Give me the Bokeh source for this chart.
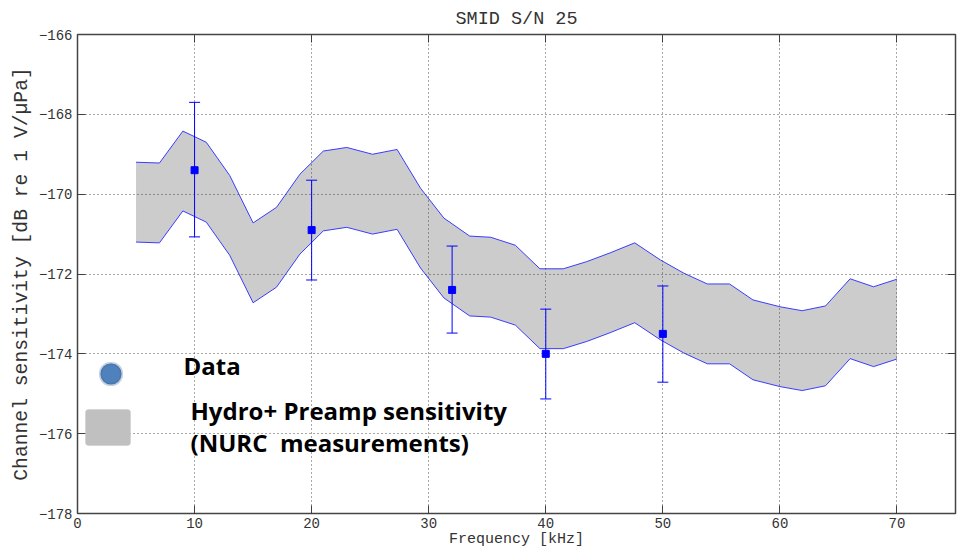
from bokeh.plotting import figure
from bokeh.models import (ColumnDataSource, Whisker, TeeHead, LinearAxis,
                          FixedTicker, Range1d, Label, BoxAnnotation)
from bokeh.embed import file_html
from bokeh.resources import INLINE

# Hydrophone + preamp sensitivity envelope (NURC measurements)
band_freq = [5, 7, 9, 11, 13, 15, 17, 19, 21, 23, 25.2, 27.3, 29.3, 31.3,
             33.5, 35.3, 37.4, 39.5, 41.5, 43.5, 45.5, 47.6, 49.8, 51.8,
             53.8, 55.7, 57.7, 60, 61.9, 63.9, 66, 68, 70]
band_upper = [-169.2, -169.22, -168.42, -168.7, -169.53, -170.72, -170.33,
              -169.5, -168.92, -168.83, -169.0, -168.88, -169.85, -170.6,
              -171.05, -171.08, -171.28, -171.87, -171.87, -171.69, -171.47,
              -171.22, -171.65, -171.98, -172.25, -172.25, -172.65, -172.82,
              -172.92, -172.8, -172.12, -172.32, -172.13]
band_lower = [-171.2, -171.22, -170.42, -170.7, -171.53, -172.72, -172.33,
              -171.5, -170.92, -170.83, -171.0, -170.88, -171.85, -172.6,
              -173.05, -173.08, -173.28, -173.87, -173.87, -173.69, -173.47,
              -173.22, -173.65, -173.98, -174.25, -174.25, -174.65, -174.82,
              -174.92, -174.8, -174.12, -174.32, -174.13]

# Channel sensitivity measured on SMID S/N 25, with error bars
meas_freq = [10, 20, 32, 40, 50]
meas_sens = [-169.4, -170.9, -172.4, -174.0, -173.5]
meas_hi = [-167.7, -169.65, -171.3, -172.88, -172.3]
meas_lo = [-171.07, -172.15, -173.48, -175.13, -174.71]

x_ticks = [0, 10, 20, 30, 40, 50, 60, 70]
y_ticks = [-178, -176, -174, -172, -170, -168, -166]

MONO = "Liberation Mono"
AXIS_COLOR = "#444444"
EDGE_BLUE = "#3b3bff"

p = figure(width=959, height=550, output_backend="svg", toolbar_location=None,
           x_range=Range1d(0, 75), y_range=Range1d(-178, -166),
           min_border_left=77, min_border_right=4,
           min_border_top=34, min_border_bottom=36,
           background_fill_color="white", border_fill_color="white")

p.title.text = "SMID S/N 25"
p.title.align = "center"
p.title.text_font = MONO
p.title.text_font_size = "18.5px"
p.title.text_font_style = "normal"
p.title.text_color = "#333333"

p.outline_line_color = AXIS_COLOR
p.outline_line_width = 1

def style_axis(ax, ticks, show_labels):
    ax.ticker = FixedTicker(ticks=ticks)
    ax.axis_line_color = AXIS_COLOR
    ax.axis_line_width = 1.5
    ax.major_tick_line_color = AXIS_COLOR
    ax.major_tick_in = 8
    ax.major_tick_out = 0
    ax.minor_tick_in = 0
    ax.minor_tick_out = 0
    ax.major_label_text_font = MONO
    ax.major_label_text_color = "#333333"
    ax.major_label_text_font_size = "14px"
    if not show_labels:
        # tick marks only on the mirrored top/right edges
        ax.major_label_overrides = {t: "" for t in ticks}
        ax.major_label_standoff = 0

style_axis(p.xaxis[0], x_ticks, True)
style_axis(p.yaxis[0], y_ticks, True)
p.xaxis.axis_label = "Frequency [kHz]"
p.yaxis.axis_label = "Channel sensitivity [dB re 1 V/\u00b5Pa]"
for ax, size in ((p.xaxis[0], "15px"), (p.yaxis[0], "19.7px")):
    ax.axis_label_text_font = MONO
    ax.axis_label_text_font_size = size
    ax.axis_label_text_font_style = "normal"
    ax.axis_label_text_color = "#333333"
p.xaxis.major_label_standoff = 4
p.xaxis.axis_label_standoff = 0
p.yaxis.major_label_standoff = 5
p.yaxis.axis_label_standoff = 3

top_axis = LinearAxis()
style_axis(top_axis, x_ticks, False)
p.add_layout(top_axis, "above")
right_axis = LinearAxis()
style_axis(right_axis, y_ticks, False)
p.add_layout(right_axis, "right")

# dotted grid drawn over the shaded envelope
for grid, ticks in ((p.xgrid, x_ticks), (p.ygrid, y_ticks)):
    grid.ticker = FixedTicker(ticks=ticks)
    grid.grid_line_color = "#333333"
    grid.grid_line_dash = "1 3"
    grid.grid_line_width = 1
    grid.grid_line_alpha = 0.85
    grid.level = "guide"

band = ColumnDataSource(dict(f=band_freq, up=band_upper, lo=band_lower))
p.varea(x="f", y1="lo", y2="up", source=band, fill_color="#cccccc")
p.line(x="f", y="up", source=band, line_color=EDGE_BLUE, line_width=1)
p.line(x="f", y="lo", source=band, line_color=EDGE_BLUE, line_width=1)

meas = ColumnDataSource(dict(f=meas_freq, s=meas_sens, hi=meas_hi, lo=meas_lo))
whisk = Whisker(base="f", upper="hi", lower="lo", source=meas,
                line_color="#0000ff", line_width=1, level="annotation",
                upper_head=TeeHead(size=11, line_color="#0000ff", line_width=1),
                lower_head=TeeHead(size=11, line_color="#0000ff", line_width=1))
p.add_layout(whisk)
marks = p.scatter(x="f", y="s", source=meas, marker="square", size=7,
                  fill_color="#0000ff", line_color="#0000ff")
marks.level = "annotation"

# Legend keys, placed in screen units from the frame's lower-left corner
screen = dict(left_units="screen", right_units="screen",
              top_units="screen", bottom_units="screen")
p.add_layout(BoxAnnotation(left=23, right=44, top=150, bottom=129,
                           fill_color="#4f81bd", fill_alpha=1,
                           line_color="#3a6396", line_width=3,
                           border_radius=10, level="overlay", **screen))
p.add_layout(BoxAnnotation(left=8, right=53, top=104, bottom=68,
                           fill_color="#c0c0c0", fill_alpha=1,
                           line_color="#c0c0c0", line_width=1,
                           border_radius=3, level="overlay", **screen))
legend_font = dict(text_font="Open Sans", text_font_style="bold",
                   text_color="black", text_baseline="alphabetic",
                   x_units="screen", y_units="screen")
p.add_layout(Label(x=106, y=148, text="Data", text_font_size="24px",
                   **legend_font))
p.add_layout(Label(x=113, y=103, text="Hydro+ Preamp sensitivity",
                   text_font_size="24px", **legend_font))
p.add_layout(Label(x=113, y=71, text="(NURC \u00a0measurements)",
                   text_font_size="24px", **legend_font))

open("out.html", "w").write(file_html(p, INLINE))
